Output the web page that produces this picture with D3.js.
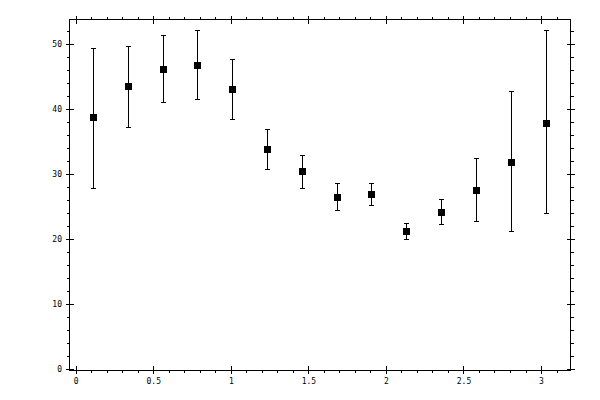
<!DOCTYPE html>
<html><head><meta charset="utf-8">
<script src="https://cdn.jsdelivr.net/npm/d3@7"></script>
<style>
body{margin:0;background:#fff;}
svg{display:block;}
.tick text{font-family:"DejaVu Sans Mono",monospace;font-size:8px;fill:#000;}
.tick line{stroke:#000;stroke-width:1;}
</style></head><body>
<svg id="c" width="600" height="400"></svg>
<script>
const xs   = [0.112, 0.337, 0.561, 0.785, 1.010, 1.234, 1.459, 1.683, 1.907, 2.132, 2.356, 2.580, 2.805, 3.029];
const ys   = [38.6, 43.35, 46.1, 46.7, 43.0, 33.8, 30.3, 26.45, 26.9, 21.2, 24.15, 27.5, 31.8, 37.8];
const yHi  = [49.3, 49.5, 51.3, 52.0, 47.6, 36.85, 32.75, 28.6, 28.6, 22.4, 26.0, 32.3, 42.6, 51.95];
const yLo  = [27.8, 37.05, 40.9, 41.35, 38.4, 30.75, 27.7, 24.45, 25.2, 19.9, 22.3, 22.75, 21.2, 23.85];
const xMajor = [0, 0.5, 1, 1.5, 2, 2.5, 3];
const xMinor = [0.1,0.2,0.3,0.4,0.6,0.7,0.8,0.9,1.1,1.2,1.3,1.4,1.6,1.7,1.8,1.9,2.1,2.2,2.3,2.4,2.6,2.7,2.8,2.9,3.1];
const yMajor = [0, 10, 20, 30, 40, 50];
const yMinor = [2,4,6,8,12,14,16,18,22,24,26,28,32,34,36,38,42,44,46,48,52];
const xLabels = ["0","0.5","1","1.5","2","2.5","3"];
const yLabels = ["0","10","20","30","40","50"];

const L = 69.5, R = 570.5, T = 19.5, B = 370;
const svg = d3.select("#c");
const x = d3.scaleLinear().domain([-0.04, 3.19]).range([L, R]);
const y = d3.scaleLinear().domain([-0.1, 53.7]).range([B, T]);

const g = svg.append("g").attr("shape-rendering","crispEdges");

function ax(gen, tx, ty){
  const a = g.append("g").attr("transform",`translate(${tx},${ty})`).call(gen);
  a.select(".domain").remove();
  return a;
}
// bottom
ax(d3.axisBottom(x).tickValues(xMajor).tickSize(4).tickPadding(4).tickFormat((d,i)=>xLabels[i]), 0, B);
ax(d3.axisTop(x).tickValues(xMajor).tickSize(4).tickFormat(""), 0, B);
ax(d3.axisBottom(x).tickValues(xMinor).tickSize(3).tickFormat(""), 0, B);
// top
ax(d3.axisTop(x).tickValues(xMajor).tickSize(4).tickFormat(""), 0, T);
ax(d3.axisBottom(x).tickValues(xMajor).tickSize(4).tickFormat(""), 0, T);
ax(d3.axisTop(x).tickValues(xMinor).tickSize(3).tickFormat(""), 0, T);
// left
ax(d3.axisLeft(y).tickValues(yMajor).tickSize(4).tickPadding(3.5).tickFormat((d,i)=>yLabels[i]), L, 0);
ax(d3.axisRight(y).tickValues(yMajor).tickSize(4).tickFormat(""), L, 0);
ax(d3.axisLeft(y).tickValues(yMinor).tickSize(3).tickFormat(""), L, 0);
// right
ax(d3.axisRight(y).tickValues(yMajor).tickSize(4).tickFormat(""), R, 0);
ax(d3.axisLeft(y).tickValues(yMajor).tickSize(4).tickFormat(""), R, 0);
ax(d3.axisRight(y).tickValues(yMinor).tickSize(3).tickFormat(""), R, 0);

// frame
g.append("rect").attr("x",L).attr("y",T).attr("width",R-L).attr("height",B-T)
  .attr("fill","none").attr("stroke","#000").attr("stroke-width",1);

const data = xs.map((d,i)=>({x:d, y:ys[i], hi:yHi[i], lo:yLo[i]}));
const pts = g.append("g");
pts.selectAll("line.err").data(data).join("line").attr("class","err")
  .attr("x1",d=>Math.round(x(d.x))+0.5).attr("x2",d=>Math.round(x(d.x))+0.5)
  .attr("y1",d=>y(d.hi)).attr("y2",d=>y(d.lo)).attr("stroke","#000").attr("stroke-width",1.2);
pts.selectAll("line.capt").data(data).join("line").attr("class","capt")
  .attr("x1",d=>Math.round(x(d.x))-2).attr("x2",d=>Math.round(x(d.x))+3)
  .attr("y1",d=>y(d.hi)).attr("y2",d=>y(d.hi)).attr("stroke","#000").attr("stroke-width",1);
pts.selectAll("line.capb").data(data).join("line").attr("class","capb")
  .attr("x1",d=>Math.round(x(d.x))-2).attr("x2",d=>Math.round(x(d.x))+3)
  .attr("y1",d=>y(d.lo)).attr("y2",d=>y(d.lo)).attr("stroke","#000").attr("stroke-width",1);
pts.selectAll("rect.m").data(data).join("rect").attr("class","m")
  .attr("x",d=>Math.round(x(d.x))-3).attr("y",d=>y(d.y)-3.5)
  .attr("width",7).attr("height",7).attr("fill","#000");
</script></body></html>
